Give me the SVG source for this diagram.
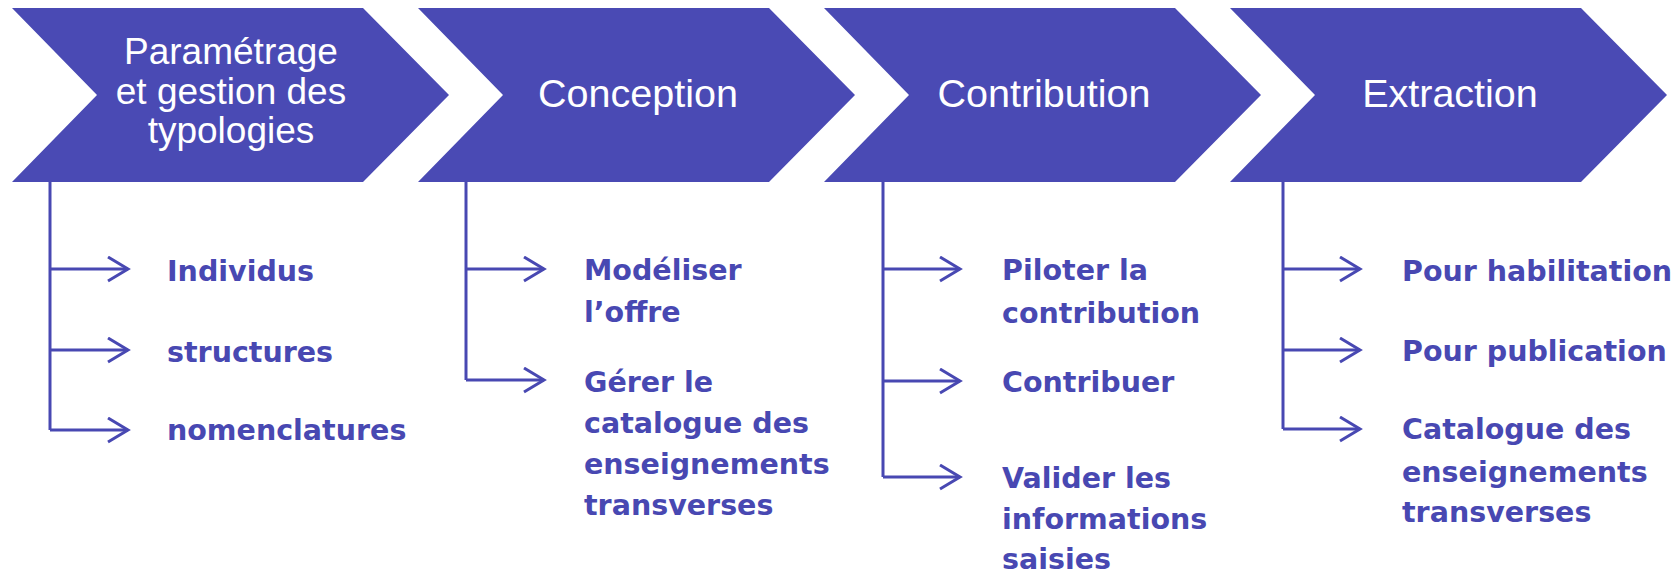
<svg xmlns="http://www.w3.org/2000/svg" width="1680" height="577" viewBox="0 0 1680 577">
<style>
.chev{fill:#4a4ab4}
.hd{font-family:"Liberation Sans",Arial,sans-serif;font-size:39.5px;fill:#ffffff;text-anchor:middle}
.hd3{font-size:37px}
.it{font-family:"DejaVu Sans",sans-serif;font-weight:bold;font-size:28.5px;fill:#4848b2}
.ln{fill:none;stroke:#4848b2;stroke-width:3}
</style>
<defs>
<marker id="arr" markerUnits="userSpaceOnUse" markerWidth="26" markerHeight="28" refX="22" refY="13" orient="auto">
<path d="M2,1 L22,13 L2,25" fill="none" stroke="#4848b2" stroke-width="3"/>
</marker>
</defs>
<rect width="1680" height="577" fill="#ffffff"/>

<g id="step1">
<polygon class="chev" points="12,8 363,8 449,95 363,182 12,182 97,95"/>
<text class="hd hd3" x="231"><tspan x="231" y="64">Paramétrage</tspan><tspan x="231" y="103.5">et gestion des</tspan><tspan x="231" y="143">typologies</tspan></text>
</g>
<g id="step2">
<polygon class="chev" points="418,8 769,8 855,95 769,182 418,182 503,95"/>
<text class="hd" x="638" y="107">Conception</text>
</g>
<g id="step3">
<polygon class="chev" points="824,8 1175,8 1261,95 1175,182 824,182 909,95"/>
<text class="hd" x="1044" y="107">Contribution</text>
</g>
<g id="step4">
<polygon class="chev" points="1230,8 1581,8 1667,95 1581,182 1230,182 1315,95"/>
<text class="hd" x="1450" y="107">Extraction</text>
</g>

<g id="connectors">
<path class="ln" d="M50,182 V430"/>
<path class="ln" d="M50,269 H128" marker-end="url(#arr)"/>
<path class="ln" d="M50,350 H128" marker-end="url(#arr)"/>
<path class="ln" d="M50,430 H128" marker-end="url(#arr)"/>
<path class="ln" d="M466,182 V380"/>
<path class="ln" d="M466,269 H544" marker-end="url(#arr)"/>
<path class="ln" d="M466,380 H544" marker-end="url(#arr)"/>
<path class="ln" d="M883,182 V477"/>
<path class="ln" d="M883,269 H960" marker-end="url(#arr)"/>
<path class="ln" d="M883,381 H960" marker-end="url(#arr)"/>
<path class="ln" d="M883,477 H960" marker-end="url(#arr)"/>
<path class="ln" d="M1283,182 V429"/>
<path class="ln" d="M1283,269 H1360" marker-end="url(#arr)"/>
<path class="ln" d="M1283,350 H1360" marker-end="url(#arr)"/>
<path class="ln" d="M1283,429 H1360" marker-end="url(#arr)"/>
</g>

<g id="items1">
<text class="it" x="167" y="281">Individus</text>
<text class="it" x="167" y="362">structures</text>
<text class="it" x="167" y="440">nomenclatures</text>
</g>
<g id="items2">
<text class="it"><tspan x="584" y="280">Modéliser</tspan><tspan x="584" y="322">l’offre</tspan></text>
<text class="it"><tspan x="584" y="392">Gérer le</tspan><tspan x="584" y="433">catalogue des</tspan><tspan x="584" y="474">enseignements</tspan><tspan x="584" y="515">transverses</tspan></text>
</g>
<g id="items3">
<text class="it"><tspan x="1002" y="280">Piloter la</tspan><tspan x="1002" y="323">contribution</tspan></text>
<text class="it" x="1002" y="392">Contribuer</text>
<text class="it"><tspan x="1002" y="488">Valider les</tspan><tspan x="1002" y="529">informations</tspan><tspan x="1002" y="569">saisies</tspan></text>
</g>
<g id="items4">
<text class="it" x="1402" y="281">Pour habilitation</text>
<text class="it" x="1402" y="361">Pour publication</text>
<text class="it"><tspan x="1402" y="439">Catalogue des</tspan><tspan x="1402" y="482">enseignements</tspan><tspan x="1402" y="522">transverses</tspan></text>
</g>
</svg>
